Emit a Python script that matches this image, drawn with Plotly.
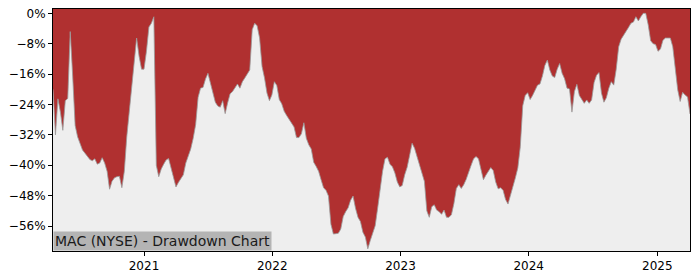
import pandas as pd
import plotly.graph_objects as go

# Weekly drawdown readings (percent), starting 2020-04-17
start_date = "2020-04-17"
drawdown_pct = [
    -20, -32, -22.5, -26, -30.8, -23, -22.4, -4.8, -16.5, -29.5,
    -32.5, -34.2, -36, -36.8, -37.7, -38.5, -38.8, -38.3, -39.7, -39.4,
    -38, -39.4, -41.6, -46.3, -44.2, -43.3, -43, -42.9, -45.9, -41.6,
    -32.5, -26, -18, -13, -6.5, -11.3, -14.7, -14.7, -10, -3.6,
    -2.6, -0.9, -40, -43, -41, -39.7, -38.6, -38.2, -40.7, -43.6,
    -45.7, -44.5, -43.6, -42.5, -39.4, -37.7, -35.7, -32.9, -29.3, -22.1,
    -19.7, -19.5, -17.3, -15.8, -18.2, -20.4, -23.4, -24.4, -24.7, -23,
    -26.4, -23.6, -21.2, -20.6, -19.5, -18.6, -19.7, -18, -17, -15.8,
    -14.9, -4.3, -2.6, -3.3, -6.5, -14, -17, -21, -23, -21.5,
    -18, -19, -22.7, -23.8, -25.8, -26.9, -27.9, -28.9, -29.9, -32.7,
    -32.7, -31.7, -28.8, -32.9, -34.6, -35.7, -39.2, -40.3, -41.6, -43.8,
    -45.9, -46.6, -48.1, -55.5, -58.1, -58, -57.9, -56.8, -53.5, -52.2,
    -51.2, -49.2, -48.1, -51.3, -53.7, -54.8, -57.6, -58.9, -62, -59.8,
    -58.1, -55.9, -51.3, -45.9, -41.6, -38.3, -37.9, -39.7, -40.4, -42,
    -44.4, -45.7, -45.3, -42.5, -40.5, -37.4, -34.2, -35.5, -37.7, -39.7,
    -41.6, -44.2, -52, -53.7, -50.9, -50.4, -51.8, -52.2, -52.9, -51.8,
    -53.7, -53.7, -53, -50.1, -46.1, -45.1, -46.1, -45.1, -43.7, -41.6,
    -40, -38.3, -37.7, -38.3, -41.1, -43.8, -42.6, -41.4, -40.6, -41.4,
    -44.4, -46.2, -45.9, -46.6, -49, -50.2, -48.1, -45.5, -43.3, -40.7,
    -35.1, -24.3, -21.6, -20.9, -22.7, -21.6, -20.2, -18.9, -18.6, -16.5,
    -13.7, -12.3, -14.9, -16.5, -16.9, -14.7, -13.2, -15.8, -17.2, -19.7,
    -19.9, -26, -20.6, -18.7, -21.6, -22.5, -23.7, -22.8, -23.7, -22.8,
    -18.2, -16.3, -15.6, -21, -23.4, -22.2, -19.7, -18, -18.9, -14.7,
    -8.8, -6.8, -5.8, -5, -3.7, -2.6, -2.3, -0.9, -2, -0.9,
    0, 0, -3, -7.2, -8, -8.2, -10, -9.4, -7.1, -6.5,
    -6.5, -6.5, -8.8, -14, -20.1, -23.2, -20.8, -21.5, -22, -26.5,
]
dates = pd.date_range(start_date, periods=len(drawdown_pct), freq="7D")
values = [v / 100 for v in drawdown_pct]

y_ticks = [0, -0.08, -0.16, -0.24, -0.32, -0.40, -0.48, -0.56]
y_tick_text = ["0%", "\u22128%", "\u221216%", "\u221224%", "\u221232%", "\u221240%", "\u221248%", "\u221256%"]
x_ticks = ["2021-01-01", "2022-01-01", "2023-01-01", "2024-01-01", "2025-01-01"]
x_tick_text = ["2021", "2022", "2023", "2024", "2025"]
title_text = "MAC (NYSE) - Drawdown Chart"

RED = "#b03030"
GREY = "#eeeeee"
FONT = "DejaVu Sans"

fig = go.Figure()
# floor for the grey area under the curve
fig.add_trace(go.Scatter(x=dates, y=[-1.0] * len(dates), mode="lines",
                         line=dict(width=0), hoverinfo="skip", showlegend=False))
fig.add_trace(go.Scatter(x=dates, y=values, mode="lines", fill="tonexty",
                         fillcolor=GREY, line=dict(color="#9a9a9a", width=0.8),
                         showlegend=False))

fig.add_annotation(text=title_text, xref="paper", yref="paper", x=0, y=0,
                   xanchor="left", yanchor="bottom", showarrow=False,
                   font=dict(family=FONT, size=14, color="#1a1a1a"),
                   bgcolor="#b4b4b4", borderpad=1)

fig.update_layout(
    width=700, height=280,
    margin=dict(l=53, r=10, t=7, b=28),
    paper_bgcolor="white", plot_bgcolor=RED,
    font=dict(family=FONT, size=12, color="black"),
)
fig.update_xaxes(range=[dates[0], dates[-1]], tickvals=x_ticks, ticktext=x_tick_text,
                 ticks="outside", ticklen=4, tickcolor="black", showgrid=False,
                 zeroline=False, showline=True, linecolor="black", linewidth=1, mirror=True,
                 tickfont=dict(family=FONT, size=12, color="black"))
fig.update_yaxes(range=[-0.6256, 0.0114], tickvals=y_ticks, ticktext=y_tick_text,
                 ticks="outside", ticklen=4, tickcolor="black", showgrid=False,
                 zeroline=False, showline=True, linecolor="black", linewidth=1, mirror=True,
                 tickfont=dict(family=FONT, size=12, color="black"))

fig.write_html("out.html")
